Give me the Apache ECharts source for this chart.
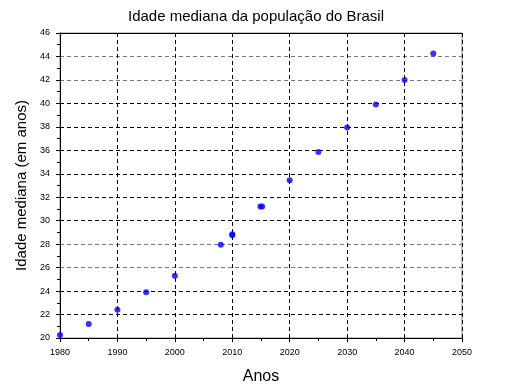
<!DOCTYPE html>
<html>
<head>
<meta charset="utf-8">
<script src="https://cdn.jsdelivr.net/npm/echarts@6/dist/echarts.min.js"></script>
<style>html,body{margin:0;padding:0;background:#fff}#c{width:512px;height:385px}</style>
</head>
<body>
<div id="c"></div>
<script>
var titleText = "Idade mediana da população do Brasil";
var xName = "Anos";
var yName = "Idade mediana (em anos)";
var years = [1980, 1985, 1990, 1995, 2000, 2008, 2010, 2010, 2014.9, 2015.2, 2020, 2025, 2030, 2035, 2040, 2045];
var ages  = [20.25, 21.2, 22.4, 23.9, 25.3, 27.95, 28.75, 28.85, 31.2, 31.2, 33.45, 35.85, 37.95, 39.9, 42.0, 44.25];
var gridColors = ['#000','#000','#000','#777','#777','#000','#000','#000','#000','#000','#000','#777','#777','#000'];

var chart = echarts.init(document.getElementById('c'));
var pts = years.map(function(y, i){ return [y, ages[i]]; });
var font = 'Liberation Sans, Arial, sans-serif';
chart.setOption({
  animation: false,
  title: { text: titleText, left: 'center', top: 4, textStyle: { fontFamily: font, fontSize: 15, fontWeight: 'normal', color: '#000' } },
  grid: { left: 60, right: 50, top: 33, bottom: 47, outerBoundsMode: 'none', containLabel: false, show: true, borderColor: '#888', borderWidth: 1, backgroundColor: 'transparent' },
  xAxis: [{
    type: 'value', min: 1980, max: 2050, interval: 10,
    name: xName, nameLocation: 'middle', nameGap: 31,
    nameTextStyle: { fontFamily: font, fontSize: 16, color: '#000' },
    axisLine: { show: true, onZero: false, lineStyle: { color: '#000', width: 1 } },
    axisTick: { show: true, inside: false, length: 4, lineStyle: { color: '#000' } },
    minorTick: { show: true, splitNumber: 2, length: 3, lineStyle: { color: '#000' } },
    axisLabel: { fontFamily: font, fontSize: 9, color: '#000', margin: 10, formatter: function(v){ return String(v); } },
    splitLine: { show: true, lineStyle: { color: '#000', type: [4, 3], width: 1 } }
  }, {
    type: 'value', position: 'top', min: 1980, max: 2050,
    axisLine: { show: true, lineStyle: { color: '#000', width: 1 } },
    axisTick: { show: false }, axisLabel: { show: false }, splitLine: { show: false }
  }],
  yAxis: [{
    type: 'value', min: 20, max: 46, interval: 2,
    name: yName, nameLocation: 'middle', nameGap: 28,
    nameTextStyle: { fontFamily: font, fontSize: 15, color: '#000' },
    axisLine: { show: true, onZero: false, lineStyle: { color: '#000', width: 1 } },
    axisTick: { show: true, inside: false, length: 4, lineStyle: { color: '#000' } },
    minorTick: { show: true, splitNumber: 2, length: 3, lineStyle: { color: '#000' } },
    axisLabel: { fontFamily: font, fontSize: 9, color: '#000', margin: 10 },
    splitLine: { show: true, lineStyle: { color: gridColors, type: [4, 3], width: 1 } }
  }],
  series: [{
    type: 'scatter', data: pts, symbol: 'circle', symbolSize: 6,
    itemStyle: { color: '#0000ff' }, clip: false
  }]
});
</script>
</body>
</html>
